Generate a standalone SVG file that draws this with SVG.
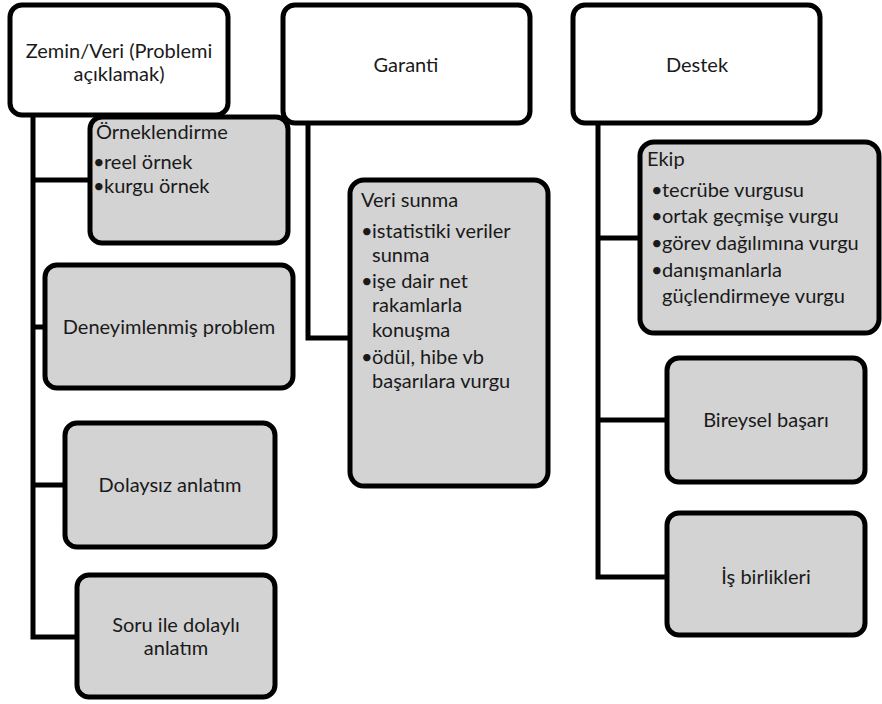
<svg xmlns="http://www.w3.org/2000/svg" width="882" height="704" viewBox="0 0 882 704">
<style>
.top{fill:#ffffff;stroke:#000;stroke-width:5}
.sub{fill:#d3d3d3;stroke:#000;stroke-width:5}
.conn{fill:none;stroke:#000;stroke-width:5}
text{font-family:Lato,"Liberation Sans",sans-serif;font-size:20px;fill:#1a1a1a}
.c{text-anchor:middle}
</style>
<rect width="882" height="704" fill="#ffffff"/>
<g id="connectors">
<path class="conn" d="M33,115 V637 H78 M33,180 H92 M33,327 H47 M33,485 H67"/>
<path class="conn" d="M308,123 V338 H352"/>
<path class="conn" d="M598,123 V577 H669 M598,238 H642 M598,420 H669"/>
</g>
<g id="zemin"><rect class="top" x="10" y="5" width="218" height="110" rx="12"/>
<text class="c" x="119" y="58">Zemin/Veri (Problemi</text><text class="c" x="119" y="81">açıklamak)</text></g>
<g id="garanti"><rect class="top" x="283" y="5" width="247" height="118" rx="12"/>
<text class="c" x="406" y="72">Garanti</text></g>
<g id="destek"><rect class="top" x="573" y="5" width="247" height="118" rx="12"/>
<text class="c" x="697" y="72">Destek</text></g>
<g id="orneklendirme"><rect class="sub" x="90" y="117" width="198" height="126" rx="12"/>
<text x="96" y="139">Örneklendirme</text>
<text x="93" y="169">•</text><text x="104" y="169">reel örnek</text>
<text x="93" y="193">•</text><text x="104" y="193">kurgu örnek</text></g>
<g id="deneyim"><rect class="sub" x="45" y="265" width="248" height="123" rx="12"/>
<text class="c" x="169" y="334">Deneyimlenmiş problem</text></g>
<g id="dolaysiz"><rect class="sub" x="65" y="423" width="210" height="124" rx="12"/>
<text class="c" x="170" y="492">Dolaysız anlatım</text></g>
<g id="soru"><rect class="sub" x="77" y="575" width="198" height="122" rx="12"/>
<text class="c" x="176" y="632">Soru ile dolaylı</text><text class="c" x="176" y="655">anlatım</text></g>
<g id="veri-sunma"><rect class="sub" x="350" y="180" width="198" height="306" rx="14"/>
<text x="361" y="207">Veri sunma</text>
<text x="361" y="238">•</text><text x="372" y="238">istatistiki veriler</text>
<text x="372" y="262">sunma</text>
<text x="361" y="288">•</text><text x="372" y="288">işe dair net</text>
<text x="372" y="312">rakamlarla</text>
<text x="372" y="337">konuşma</text>
<text x="361" y="364">•</text><text x="372" y="364">ödül, hibe vb</text>
<text x="372" y="388">başarılara vurgu</text></g>
<g id="ekip"><rect class="sub" x="640" y="142" width="239" height="191" rx="14"/>
<text x="647" y="166">Ekip</text>
<text x="651" y="197">•</text><text x="662" y="197">tecrübe vurgusu</text>
<text x="651" y="223">•</text><text x="662" y="223">ortak geçmişe vurgu</text>
<text x="651" y="250">•</text><text x="662" y="250">görev dağılımına vurgu</text>
<text x="651" y="277">•</text><text x="662" y="277">danışmanlarla</text>
<text x="662" y="303">güçlendirmeye vurgu</text></g>
<g id="bireysel"><rect class="sub" x="667" y="358" width="198" height="124" rx="12"/>
<text class="c" x="766" y="427">Bireysel başarı</text></g>
<g id="isbirlikleri"><rect class="sub" x="667" y="513" width="198" height="122" rx="12"/>
<text class="c" x="766" y="584">İş birlikleri</text></g>
</svg>
